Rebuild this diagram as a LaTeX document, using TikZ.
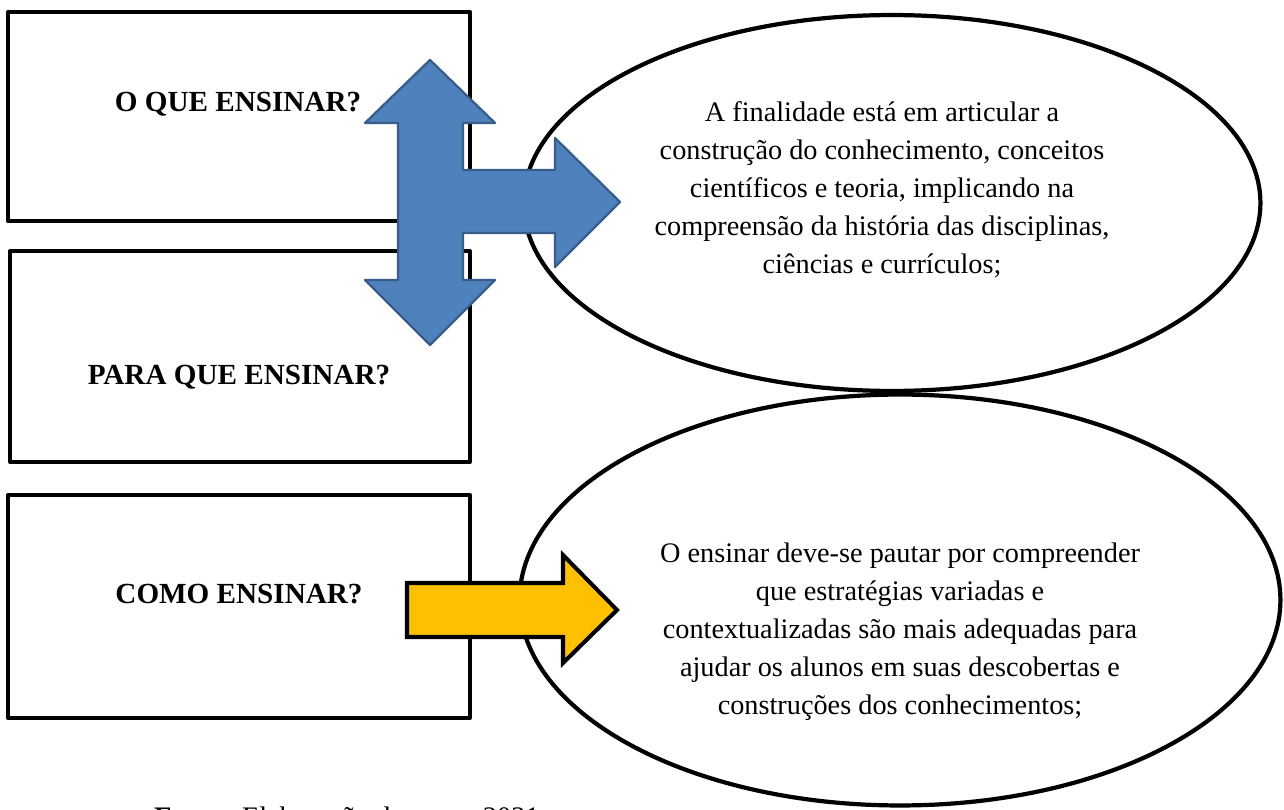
\documentclass[tikz,border=0pt]{standalone}
\usepackage{fontspec}
\setmainfont{Liberation Serif}
\usetikzlibrary{shapes.geometric}
\definecolor{arrowblue}{HTML}{4F81BD}
\definecolor{arrowedge}{HTML}{385D8A}
\definecolor{arrowgold}{HTML}{FFC000}

\begin{document}
\begin{tikzpicture}[x=0.02cm,y=-0.02cm,font=\fontsize{16.1}{21.6}\selectfont,
        frame/.style={draw,line width=2.3pt,line join=round},
        oval/.style={ellipse,draw,fill=white,line width=2.4pt,inner sep=0pt},
        question/.style={anchor=base,font=\fontsize{16.6}{20}\selectfont\bfseries},
        answer/.style={align=center}]
        \useasboundingbox (0,0) rectangle (1284,810);
        \draw[frame] (8,12) rectangle (470,221);
        \draw[frame] (10,251) rectangle (470,462);
        \draw[frame] (8,495) rectangle (470,718);
        \node[question] (q1) at (238,112) {O QUE ENSINAR?};
        \node[question] (q2) at (239,385) {PARA QUE ENSINAR?};
        \node[question] (q3) at (239,603) {COMO ENSINAR?};
        \node[oval,minimum width=15.22cm,minimum height=8.22cm] (e2) at (900,600) {};
        \node[oval,minimum width=14.74cm,minimum height=7.52cm] (e1) at (892,203) {};
        \node[answer] (t1) at (882,190) {A finalidade está em articular a\\construção do conhecimento, conceitos\\científicos e teoria, implicando na\\compreensão da história das disciplinas,\\ciências e currículos;};
        \node[answer] (t2) at (900,632) {O ensinar deve-se pautar por compreender\\que estratégias variadas e\\contextualizadas são mais adequadas para\\ajudar os alunos em suas descobertas e\\construções dos conhecimentos;};
        \path[draw=arrowedge,fill=arrowblue,line width=1.3pt,line join=round] (430,60) -- (495,123) -- (463,123) -- (463,170) -- (555,170) -- (555,138) -- (620,202) -- (555,267) -- (555,233) -- (463,233) -- (463,280) -- (495,280) -- (430,345) -- (365,280) -- (398,280) -- (398,123) -- (365,123) -- cycle;
        \path[draw,fill=arrowgold,line width=2.3pt] (407,583) -- (563,583) -- (563,555) -- (617,610) -- (563,663) -- (563,637) -- (407,637) -- cycle;
        \node[anchor=base west] (fonte) at (148,826) {\textbf{Fonte:} Elaboração do autor, 2021.};
    \end{tikzpicture}
\end{document}
